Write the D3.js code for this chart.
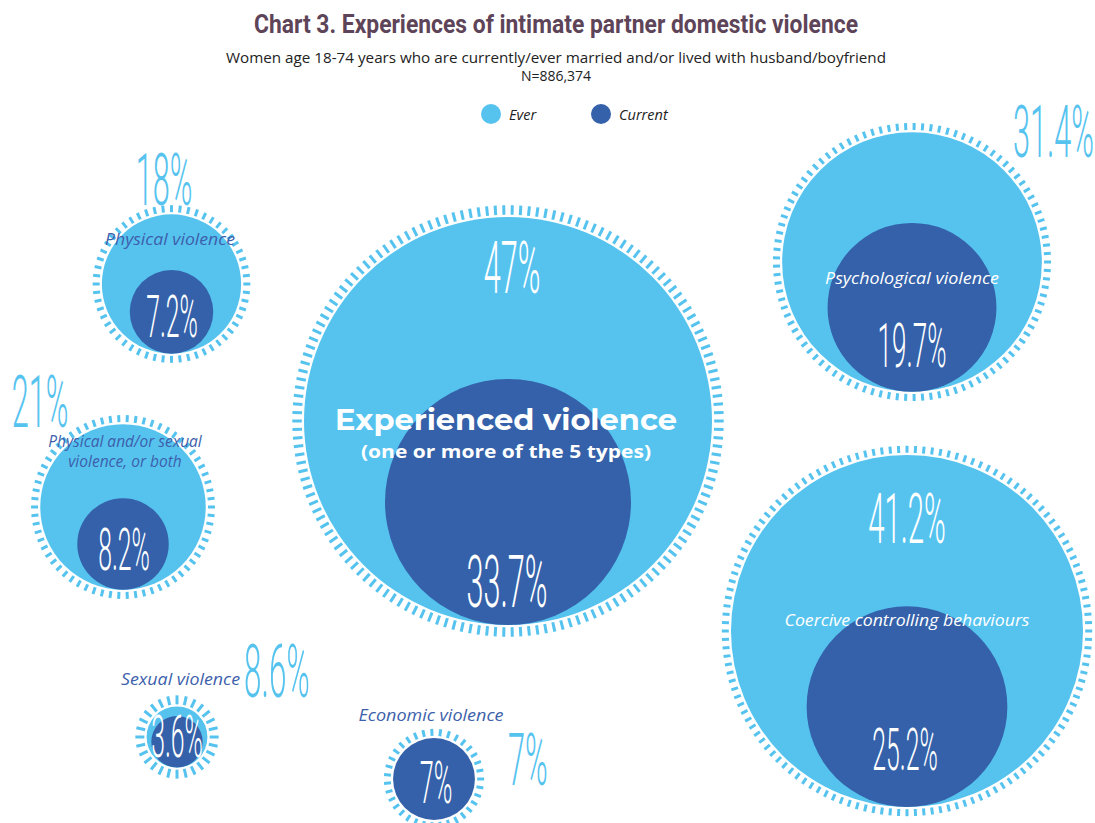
<!DOCTYPE html>
<html>
<head>
<meta charset="utf-8">
<script src="https://cdn.jsdelivr.net/npm/d3@7/dist/d3.min.js"></script>
<style>
  html, body { margin: 0; padding: 0; background: #ffffff; }
  svg { display: block; }
</style>
</head>
<body>
<div id="chart"></div>
<script>
// ---- data ----
const categories = [
  "Experienced violence",
  "Physical violence",
  "Physical and/or sexual violence, or both",
  "Sexual violence",
  "Economic violence",
  "Psychological violence",
  "Coercive controlling behaviours"
];
const everValues    = [47, 18, 21, 8.6, 7, 31.4, 41.2];
const currentValues = [33.7, 7.2, 8.2, 3.6, 7, 19.7, 25.2];
const seriesNames   = ["Ever", "Current"];

const titleText    = "Chart 3. Experiences of intimate partner domestic violence";
const subtitleText = "Women age 18-74 years who are currently/ever married and/or lived with husband/boyfriend";
const sampleText   = "N=886,374";

// ---- styles ----
const W = 1095, H = 823;
const LIGHT = "#56c3ef";
const DARK  = "#3461a9";
const LABEL_BLUE = "#3d5fab";
const TITLE_COLOR = "#5e4458";
const NUM_FONT = "Roboto, 'Liberation Sans Narrow', sans-serif";
const TXT_FONT = "'Open Sans', 'Noto Sans', sans-serif";

// bubble placement and label anchors
const layout = {
  "Experienced violence": {
    cx: 508, cy: 421,
    ever: { x: 512, y: 293, anchor: "middle", fill: "#fff", size: 73 },
    cur:  { x: 507, y: 607, size: 73 },
    name: { lines: ["Experienced violence"], x: 506, y: 430, anchor: "middle", fill: "#fff", bold: true, size: 29, width: 342 },
    sub:  { text: "(one or more of the 5 types)", x: 506, y: 458, size: 17, width: 290 }
  },
  "Physical violence": {
    cx: 171.5, cy: 284,
    ever: { x: 164, y: 205, anchor: "middle", fill: LIGHT, size: 73 },
    cur:  { x: 172, y: 337, size: 59 },
    name: { lines: ["Physical violence"], x: 170, y: 245, anchor: "middle", fill: LABEL_BLUE, size: 15.5, width: 130 }
  },
  "Physical and/or sexual violence, or both": {
    cx: 123, cy: 507,
    ever: { x: 40, y: 427, anchor: "middle", fill: LIGHT, size: 73 },
    cur:  { x: 124, y: 570, size: 59 },
    name: { lines: ["Physical and/or sexual", "violence, or both"], x: 125, y: 447, dy: 20, anchor: "middle", fill: LABEL_BLUE, size: 15.5 }
  },
  "Sexual violence": {
    cx: 177, cy: 737,
    ever: { x: 244, y: 697, anchor: "start", fill: LIGHT, size: 75 },
    cur:  { x: 177, y: 757, size: 59 },
    name: { lines: ["Sexual violence"], x: 240, y: 685, anchor: "end", fill: LABEL_BLUE, size: 15.5, width: 119 }
  },
  "Economic violence": {
    cx: 434, cy: 779,
    ever: { x: 508, y: 785, anchor: "start", fill: LIGHT, size: 73 },
    cur:  { x: 436, y: 803, size: 60 },
    name: { lines: ["Economic violence"], x: 431, y: 721, anchor: "middle", fill: LABEL_BLUE, size: 15.5, width: 145 }
  },
  "Psychological violence": {
    cx: 912, cy: 262,
    ever: { x: 1013, y: 157, anchor: "start", fill: LIGHT, size: 73 },
    cur:  { x: 912, y: 367, size: 62 },
    name: { lines: ["Psychological violence"], x: 912, y: 284, anchor: "middle", fill: "#fff", size: 15.5, width: 174 }
  },
  "Coercive controlling behaviours": {
    cx: 907, cy: 631,
    ever: { x: 907, y: 543, anchor: "middle", fill: "#fff", size: 70 },
    cur:  { x: 905, y: 770, size: 59 },
    name: { lines: ["Coercive controlling behaviours"], x: 907, y: 626, anchor: "middle", fill: "#fff", size: 15.5, width: 245 }
  }
};

// ---- scales ----
const rEver = d3.scalePow().exponent(1.12).domain([0, d3.max(everValues)]).range([0, 204]);
const rCurrent = d3.scalePow().exponent(0.7).domain([0, d3.max(currentValues)]).range([0, 123]);
const colour = d3.scaleOrdinal().domain(seriesNames).range([LIGHT, DARK]);
const pct = v => `${v}%`;

const svg = d3.select("#chart").append("svg")
  .attr("width", W).attr("height", H)
  .attr("viewBox", `0 0 ${W} ${H}`);

// ---- header ----
svg.append("text")
  .attr("x", 556).attr("y", 33)
  .attr("text-anchor", "middle")
  .attr("font-family", "Roboto, 'DejaVu Sans Condensed', sans-serif")
  .attr("font-weight", 700)
  .attr("font-size", 26)
  .attr("textLength", 604).attr("lengthAdjust", "spacingAndGlyphs")
  .attr("fill", TITLE_COLOR)
  .text(titleText);

svg.append("text")
  .attr("x", 556).attr("y", 63)
  .attr("text-anchor", "middle")
  .attr("font-family", TXT_FONT)
  .attr("font-size", 14)
  .attr("textLength", 660).attr("lengthAdjust", "spacingAndGlyphs")
  .attr("fill", "#222")
  .text(subtitleText);

svg.append("text")
  .attr("x", 556).attr("y", 81)
  .attr("text-anchor", "middle")
  .attr("font-family", TXT_FONT)
  .attr("font-size", 14)
  .attr("fill", "#222")
  .text(sampleText);

// ---- legend ----
const legendX = d3.scalePoint().domain(seriesNames).range([491, 601]);
const legend = svg.append("g").selectAll("g").data(seriesNames).join("g")
  .attr("transform", d => `translate(${legendX(d)},114)`);
legend.append("circle").attr("r", 10).attr("fill", d => colour(d));
legend.append("text")
  .attr("x", 18).attr("y", 6)
  .attr("font-family", TXT_FONT)
  .attr("font-style", "italic")
  .attr("font-size", 14.5)
  .attr("fill", "#222")
  .text(d => d);

// ---- bubbles ----
const bubbles = categories.map((c, i) => {
  const L = layout[c];
  const re = rEver(everValues[i]);
  const rc = rCurrent(currentValues[i]);
  const fillR = Math.max(re, rc);
  return { name: c, ever: everValues[i], current: currentValues[i], L, re, rc, fillR };
});

const gB = svg.append("g");

bubbles.forEach(b => {
  const g = gB.append("g").attr("transform", `translate(${b.L.cx},${b.L.cy})`);

  // radial tick ring around the bubble
  const r0 = b.fillR + 2.2;
  const tickLen = b.fillR > 190 ? 9.5 : (b.fillR < 35 ? 9 : 7);
  const n = Math.round(2 * Math.PI * (r0 + tickLen / 2) / 8.4);
  const ang = d3.range(n).map(k => k * 2 * Math.PI / n);
  g.append("g").selectAll("line").data(ang).join("line")
    .attr("x1", a => r0 * Math.cos(a)).attr("y1", a => r0 * Math.sin(a))
    .attr("x2", a => (r0 + tickLen) * Math.cos(a)).attr("y2", a => (r0 + tickLen) * Math.sin(a))
    .attr("stroke", LIGHT).attr("stroke-width", 3);

  // ever circle
  g.append("circle").attr("r", b.re).attr("fill", colour("Ever"));

  // current circle, resting on the bottom of the ever circle
  const cy = b.rc >= b.re ? 0 : b.re - b.rc;
  g.append("circle").attr("cy", cy).attr("r", b.rc).attr("fill", colour("Current"));
});

// thin tall numerals
function numLabel(x, y, txt, size, anchor, fill) {
  svg.append("g").attr("transform", `translate(${x},${y})`)
    .append("text")
    .attr("transform", "scale(0.42,1)")
    .attr("text-anchor", anchor)
    .attr("font-family", NUM_FONT)
    .attr("font-weight", 300)
    .attr("font-size", size)
    .attr("fill", fill)
    .text(txt);
}

bubbles.forEach(b => {
  const L = b.L;
  // category name
  L.name.lines.forEach((line, k) => {
    const t = svg.append("text")
      .attr("x", L.name.x).attr("y", L.name.y + k * (L.name.dy || 0))
      .attr("text-anchor", L.name.anchor)
      .attr("font-family", L.name.bold ? "Montserrat, 'Open Sans', sans-serif" : TXT_FONT)
      .attr("font-weight", L.name.bold ? 700 : 400)
      .attr("font-style", L.name.bold ? "normal" : "italic")
      .attr("font-size", L.name.size)
      .attr("fill", L.name.fill)
      .text(line);
    if (L.name.width) t.attr("textLength", L.name.width).attr("lengthAdjust", "spacingAndGlyphs");
  });
  if (L.sub) {
    svg.append("text")
      .attr("x", L.sub.x).attr("y", L.sub.y)
      .attr("text-anchor", "middle")
      .attr("font-family", TXT_FONT)
      .attr("font-weight", 700)
      .attr("font-size", L.sub.size)
      .attr("textLength", L.sub.width).attr("lengthAdjust", "spacingAndGlyphs")
      .attr("fill", "#fff")
      .text(L.sub.text);
  }
  numLabel(L.ever.x, L.ever.y, pct(b.ever), L.ever.size, L.ever.anchor, L.ever.fill);
  numLabel(L.cur.x, L.cur.y, pct(b.current), L.cur.size, "middle", "#fff");
});
</script>
</body>
</html>
